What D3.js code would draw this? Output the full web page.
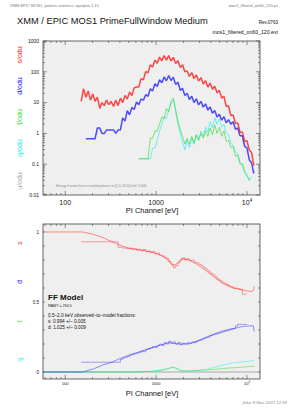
<!DOCTYPE html>
<html>
<head>
<meta charset="utf-8">
<script src="https://cdn.jsdelivr.net/npm/d3@7"></script>
<style>
  body { margin: 0; background: #fff; }
  text { font-family: "Liberation Sans", Arial, sans-serif; }
</style>
</head>
<body>
<script>
// energy grid of the spectra (eV)
const energy = [150, 159, 169, 179, 190, 201, 213, 226, 240, 254, 269, 285, 302, 320, 340, 360, 382, 405, 429, 455,
  482, 511, 542, 574, 609, 645, 684, 725, 769, 815, 864, 916, 971, 1029, 1091, 1156, 1226, 1299, 1377, 1460,
  1547, 1640, 1739, 1843, 1954, 2071, 2195, 2327, 2467, 2615, 2772, 2938, 3114, 3301, 3499, 3709, 3932, 4168, 4418, 4683,
  4964, 5262, 5577, 5912, 6267, 6643, 7041, 7464, 7912, 8386, 8890, 9423, 9988, 10588, 11223, 11896];

// counts per odu for singles, doubles, triples, quadruples
const sCounts = [11, 28, 15, 24, 12, 19, 11, 15, 6.5, 10, 8, 12, 8.5, 11, 7.5, 12, 8, 14, 10, 17,
  13, 22, 17, 30, 32, 32, 60, 55, 102, 92, 168, 143, 240, 189, 300, 227, 336, 240, 336, 223,
  294, 185, 228, 139, 168, 101, 106, 71, 94, 60, 79, 50, 65, 40, 52, 32, 43, 27, 34, 21,
  25, 14, 16, 7.6, 7.8, 3.8, 4.0, 2.1, 2.2, 1.1, 1.1, 0.55, 0.58, 0.29, 0.24, 0.09];
const dCounts = [null, null, 0.67, 0.67, 0.67, 0.67, 0.67, 1.5, 1.5, 1.0, 1.0, 1.3, 1.3, 1.3, 1.3, 1.0, 1.3, 1.3, 3.2, 2.5,
  5.5, 4.0, 7.0, 6.0, 10.5, 8.5, 13, 12, 18, 16, 28, 24, 40.8, 33.6, 55, 44, 68, 51, 76, 52,
  67, 39, 46, 25, 29, 17, 20, 12.6, 16.2, 10, 13.2, 8.4, 11, 7.1, 9.1, 5.7, 7.2, 4.5, 5.5, 3.4,
  4.2, 2.7, 3.5, 2.2, 2.8, 2.0, 2.4, 1.35, 1.5, 0.84, 0.84, 0.38, 0.34, 0.14, 0.11, 0.05];
const tCounts = [null, null, null, null, null, null, null, null, null, null, null, null, null, null, null, null, null, null, null, null,
  null, null, null, null, null, 0.15, 0.15, 0.15, 0.15, 0.15, 0.7, 0.7, 1.2, 1.2, 2.0, 3.5, 3.0, 6.5, 5.0, 11,
  14, 6, 2.5, 1.3, 0.8, 0.45, 0.7, 0.45, 0.8, 0.5, 0.9, 0.6, 1.0, 0.7, 1.2, 0.8, 1.5, 0.9, 1.9, 1.0,
  1.6, 0.8, 1.2, 0.55, 0.6, 0.35, 0.38, 0.18, 0.2, 0.1, 0.1, 0.06, 0.045, 0.03, null, null];
const qCounts = [null, null, null, null, null, null, null, null, null, null, null, null, null, null, null, null, null, null, null, null,
  null, null, null, null, null, 0.15, 0.15, 0.15, 0.15, 0.15, 0.15, 0.33, 0.33, 0.6, 1.2, 2.0, 3.5, 3.0, 6, 9,
  12, 5, 2, 1, 0.5, 0.3, 0.6, 0.35, 0.7, 0.45, 0.9, 0.6, 1.2, 0.8, 1.6, 1.1, 2.4, 1.5, 3.2, 2,
  3.0, 1.6, 2.0, 1.0, 0.9, 0.5, 0.4, 0.25, 0.22, 0.12, 0.1, 0.05, 0.04, 0.03, 0.04, null];

// observed pattern fractions on the same grid
const sFrac = [0.93, 0.93, 0.93, 0.93, 0.93, 0.93, 0.93, 0.93, 0.93, 0.93, 0.93, 0.93, 0.93, 0.93, 0.93, 0.93, 0.89, 0.89, 0.885, 0.885,
  0.88, 0.885, 0.875, 0.88, 0.87, 0.875, 0.865, 0.875, 0.86, 0.865, 0.855, 0.86, 0.845, 0.85, 0.835, 0.83, 0.82, 0.81, 0.79, 0.77,
  0.745, 0.76, 0.78, 0.8, 0.815, 0.8, 0.81, 0.795, 0.8, 0.785, 0.78, 0.77, 0.76, 0.745, 0.735, 0.72, 0.705, 0.695, 0.68, 0.665,
  0.655, 0.64, 0.635, 0.625, 0.615, 0.61, 0.6, 0.6, 0.595, 0.59, 0.555, 0.555, 0.555, null, null, null];
const dFrac = [0.07, 0.07, 0.07, 0.07, 0.07, 0.07, 0.07, 0.07, 0.07, 0.07, 0.07, 0.07, 0.07, 0.07, 0.07, 0.07, 0.07, 0.09, 0.1, 0.105,
  0.11, 0.12, 0.125, 0.13, 0.135, 0.14, 0.15, 0.145, 0.16, 0.165, 0.17, 0.18, 0.175, 0.19, 0.2, 0.19, 0.21, 0.2, 0.22, 0.205,
  0.215, 0.2, 0.21, 0.195, 0.205, 0.2, 0.21, 0.205, 0.215, 0.21, 0.22, 0.225, 0.23, 0.24, 0.245, 0.25, 0.26, 0.265, 0.27, 0.275,
  0.28, 0.285, 0.29, 0.295, 0.3, 0.305, 0.31, 0.33, 0.34, 0.34, 0.34, 0.34, 0.34, null, null, null];

// model fractions
const modelE = [57, 155, 200, 260, 330, 380, 500, 700, 900, 1100, 1300, 1450, 1550, 1700, 1900, 2300, 2800, 3600, 4500, 5500, 7000, 9000, 11000, 11700, 12000];
const sModel = [1.0, 1.0, 0.985, 0.96, 0.93, 0.91, 0.885, 0.87, 0.855, 0.835, 0.81, 0.775, 0.76, 0.775, 0.81, 0.8, 0.77, 0.72, 0.67, 0.63, 0.6, 0.585, 0.575, 0.58, 0.61];
const dModel = [0, 0, 0.02, 0.05, 0.07, 0.09, 0.12, 0.15, 0.175, 0.19, 0.205, 0.21, 0.205, 0.2, 0.2, 0.2, 0.22, 0.25, 0.275, 0.295, 0.31, 0.325, 0.33, 0.33, 0.29];
const tModel = [0, 0, 0, 0, 0, 0, 0, 0.002, 0.005, 0.01, 0.02, 0.03, 0.035, 0.025, 0.01, 0.008, 0.01, 0.015, 0.02, 0.025, 0.03, 0.035, 0.04, 0.04, 0.04];
const qModel = [0, 0, 0, 0, 0, 0, 0, 0.003, 0.006, 0.012, 0.022, 0.03, 0.033, 0.022, 0.008, 0.007, 0.01, 0.02, 0.035, 0.05, 0.065, 0.072, 0.08, 0.08, 0.08];

const topLabels = ["s/odu", "d/odu", "t/odu", "q/odu", "u/odu"];
const botLabels = ["s", "d", "t", "q"];
const colors = ["#ff1a1a", "#2020ff", "#30dd30", "#20eeee", "#aaaaaa"];

const W = 289, H = 408;
const svg = d3.select("body").append("svg").attr("width", W).attr("height", H);

const x = d3.scaleLog().domain([57, 13900]).range([43, 260]);
const yTop = d3.scaleLog().domain([0.01, 1000]).range([195, 41]);
const yBot = d3.scaleLinear().domain([-0.05, 1.057]).range([379, 224]);

// header
svg.append("text").attr("x", 10).attr("y", 7).attr("font-size", 4).attr("fill", "#777")
  .text("XMM EPIC MOS1, pattern statistics: epatplot-1.15");
svg.append("text").attr("x", 278).attr("y", 7).attr("font-size", 4).attr("fill", "#777").attr("text-anchor", "end")
  .text("mos1_filtered_on60_120.ps");
svg.append("text").attr("x", 17).attr("y", 24).attr("font-size", 9.3).attr("fill", "#111")
  .text("XMM / EPIC MOS1 PrimeFullWindow Medium");
svg.append("text").attr("x", 278).attr("y", 24).attr("font-size", 4.6).attr("fill", "#111").attr("text-anchor", "end")
  .text("Rev.0763");
svg.append("text").attr("x", 278).attr("y", 34).attr("font-size", 5.2).attr("fill", "#111").attr("text-anchor", "end")
  .text("mos1_filtered_on60_120.evt");
svg.append("text").attr("x", 287).attr("y", 404).attr("font-size", 4.3).attr("fill", "#888").attr("text-anchor", "end")
  .text("jlnko  9-Nov-2007 12:19");

function panel(top, bottom) {
  const g = svg.append("g");
  g.append("rect").attr("x", 43).attr("y", top).attr("width", 217).attr("height", bottom - top)
    .attr("fill", "#efefef");
  return g;
}

function xTicks(g, top, bottom, big) {
  const all = x.ticks().filter(v => v >= 57 && v <= 13900);
  const major = [100, 1000, 10000];
  all.forEach(v => {
    const len = major.includes(v) ? 4 : 2;
    g.append("line").attr("x1", x(v)).attr("x2", x(v)).attr("y1", bottom).attr("y2", bottom - len).attr("stroke", "#444").attr("stroke-width", 0.6);
    g.append("line").attr("x1", x(v)).attr("x2", x(v)).attr("y1", top).attr("y2", top + len).attr("stroke", "#444").attr("stroke-width", 0.6);
  });
  const fs = big ? 7 : 4;
  const ly = big ? bottom + 10 : bottom + 6;
  ["100", "1000"].forEach((t, i) => {
    g.append("text").attr("x", x(major[i])).attr("y", ly).attr("font-size", fs).attr("text-anchor", "middle").attr("fill", "#111").text(t);
  });
  const t4 = g.append("text").attr("x", x(10000)).attr("y", ly).attr("font-size", fs).attr("text-anchor", "middle").attr("fill", "#111");
  t4.append("tspan").text("10");
  t4.append("tspan").attr("dy", -fs * 0.45).attr("font-size", fs * 0.65).text("4");
}

// ---------- top panel ----------
const gTop = panel(41, 195);
xTicks(gTop, 41, 195, true);
yTop.ticks().forEach(v => {
  const major = Math.abs(Math.log10(v) - Math.round(Math.log10(v))) < 1e-6;
  const len = major ? 4 : 2;
  gTop.append("line").attr("x1", 43).attr("x2", 43 + len).attr("y1", yTop(v)).attr("y2", yTop(v)).attr("stroke", "#444").attr("stroke-width", 0.6);
  gTop.append("line").attr("x1", 260).attr("x2", 260 - len).attr("y1", yTop(v)).attr("y2", yTop(v)).attr("stroke", "#444").attr("stroke-width", 0.6);
  if (major) {
    gTop.append("text").attr("x", 39).attr("y", yTop(v) + 1.8).attr("font-size", 5).attr("text-anchor", "end").attr("fill", "#111")
      .text(v >= 1 ? d3.format("d")(v) : String(v));
  }
});

const specLine = d3.line()
  .defined(d => d[1] != null)
  .x(d => x(d[0]))
  .y(d => yTop(d[1]));

const spectra = [qCounts, tCounts, dCounts, sCounts];
const specColors = [colors[3], colors[2], colors[1], colors[0]];
spectra.forEach((arr, i) => {
  gTop.append("path")
    .datum(energy.map((e, j) => [e, arr[j]]))
    .attr("d", specLine)
    .attr("fill", "none")
    .attr("stroke", specColors[i])
    .attr("stroke-width", i >= 2 ? 1.5 : 0.8)
    .attr("stroke-linejoin", "bevel")
    .attr("stroke-opacity", 0.8);
});

gTop.append("text").attr("x", 56).attr("y", 187).attr("font-size", 3.3).attr("fill", "#888")
  .text("Energy fraction lost in invalid patterns in [1.0\u201332.6] keV:  0.006");

gTop.append("rect").attr("x", 43).attr("y", 41).attr("width", 217).attr("height", 154)
  .attr("fill", "none").attr("stroke", "#444").attr("stroke-width", 0.8);

const topLabelY = [55, 86, 117, 148, 181];
topLabels.forEach((t, i) => {
  svg.append("text").attr("transform", `translate(22,${topLabelY[i]}) rotate(-90)`)
    .attr("font-size", 7).attr("text-anchor", "middle").attr("fill", colors[i]).text(t);
});
svg.append("text").attr("x", 152).attr("y", 213).attr("font-size", 7.5).attr("text-anchor", "middle").attr("fill", "#111")
  .text("PI Channel [eV]");

// ---------- bottom panel ----------
const gBot = panel(224, 379);
xTicks(gBot, 224, 379, false);
d3.range(0, 11).forEach(k => {
  const v = k / 10;
  gBot.append("line").attr("x1", 43).attr("x2", 45).attr("y1", yBot(v)).attr("y2", yBot(v)).attr("stroke", "#444").attr("stroke-width", 0.6);
  gBot.append("line").attr("x1", 260).attr("x2", 258).attr("y1", yBot(v)).attr("y2", yBot(v)).attr("stroke", "#444").attr("stroke-width", 0.6);
});
[["0", 0], ["0.5", 0.5], ["1", 1]].forEach(([t, v]) => {
  gBot.append("text").attr("x", 39).attr("y", yBot(v) + 1.8).attr("font-size", 4.5).attr("text-anchor", "end").attr("fill", "#111").text(t);
});

// zero level
gBot.append("line").attr("x1", 43).attr("x2", 260).attr("y1", yBot(0)).attr("y2", yBot(0)).attr("stroke", "#999").attr("stroke-width", 0.8);

const smoothLine = d3.line().x(d => x(d[0])).y(d => yBot(d[1]));
const models = [qModel, tModel, dModel, sModel];
models.forEach((arr, i) => {
  gBot.append("path")
    .datum(modelE.map((e, j) => [e, arr[j]]))
    .attr("d", smoothLine)
    .attr("fill", "none")
    .attr("stroke", specColors[i])
    .attr("stroke-width", 0.7)
    .attr("stroke-opacity", 0.7);
});
const fracLine = d3.line()
  .defined(d => d[1] != null)
  .x(d => x(d[0]))
  .y(d => yBot(d[1]))
  .curve(d3.curveStepAfter);
[dFrac, sFrac].forEach((arr, i) => {
  gBot.append("path")
    .datum(energy.map((e, j) => [e, arr[j]]))
    .attr("d", fracLine)
    .attr("fill", "none")
    .attr("stroke", i ? colors[0] : colors[1])
    .attr("stroke-width", 0.7)
    .attr("stroke-opacity", 0.6);
});

gBot.append("rect").attr("x", 43).attr("y", 224).attr("width", 217).attr("height", 155)
  .attr("fill", "none").attr("stroke", "#444").attr("stroke-width", 0.8);

gBot.append("text").attr("x", 48).attr("y", 300).attr("font-size", 8).attr("font-weight", "bold").attr("fill", "#111").text("FF Model");
gBot.append("text").attr("x", 48).attr("y", 306.5).attr("font-size", 3.6).attr("fill", "#111").text("RAWY = 294.5");
gBot.append("text").attr("x", 48).attr("y", 317).attr("font-size", 4.7).attr("fill", "#111").text("0.5\u20132.0 keV observed\u2013to\u2013model fractions:");
gBot.append("text").attr("x", 48).attr("y", 323).attr("font-size", 4.7).attr("fill", "#111").text("s: 0.994 +/\u2013 0.005");
gBot.append("text").attr("x", 48).attr("y", 329).attr("font-size", 4.7).attr("fill", "#111").text("d: 1.025 +/\u2013 0.009");

const botLabelY = [243, 282, 321, 360];
botLabels.forEach((t, i) => {
  svg.append("text").attr("transform", `translate(22,${botLabelY[i]}) rotate(-90)`)
    .attr("font-size", 6.5).attr("text-anchor", "middle").attr("fill", colors[i]).text(t);
});
svg.append("text").attr("x", 152).attr("y", 396).attr("font-size", 7.5).attr("text-anchor", "middle").attr("fill", "#111")
  .text("PI Channel [eV]");
</script>
</body>
</html>
